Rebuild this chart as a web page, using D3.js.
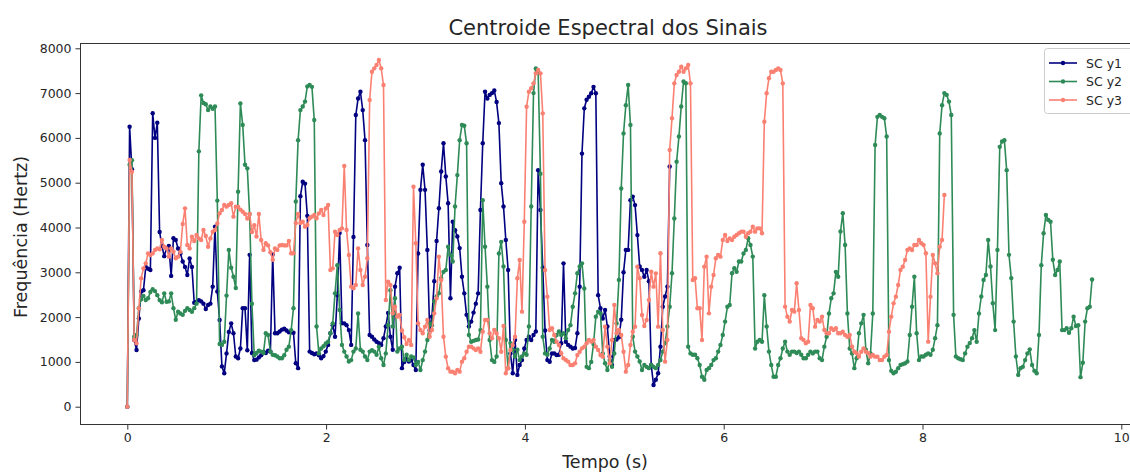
<!DOCTYPE html>
<html><head><meta charset="utf-8">
<script src="https://cdn.jsdelivr.net/npm/d3@7"></script>
<style>body{margin:0;background:#fff;} svg{display:block;font-family:"DejaVu Sans",sans-serif;}</style>
</head><body><svg id="c" width="1130" height="473"></svg>
<script>
// frame duration (hop 512 @ 22050 Hz)
const frameDur = 512 / 22050;
const seriesNames = ["SC y1", "SC y2", "SC y3"];
const seriesColors = ["#000080", "#2e8b57", "#fa8072"];
const xTicks = [0, 2, 4, 6, 8, 10];
const yTicks = [0, 1000, 2000, 3000, 4000, 5000, 6000, 7000, 8000];

const scY1 = [
0,6250,5300,1490,1265,1970,2570,2600,3120,3080,
3050,6550,6000,6340,3900,3590,3360,3530,3590,2920,
3760,3720,3530,3420,3240,3120,2940,3310,3120,2320,
2340,2380,2350,2300,2180,2270,2300,2680,4020,2570,
1935,900,745,1190,1670,1860,1640,1120,1080,1300,
2200,2200,1260,3390,1200,1040,1050,1100,1150,1220,
1200,1250,1230,3400,1640,1640,1680,1720,1740,1700,
1660,1660,1650,970,860,4700,5020,4980,4260,1230,
1200,1170,1190,1150,1080,1130,1230,1380,1640,1820,
1560,2490,3880,1860,1860,1820,1710,1380,3790,6510,
6880,7030,6620,5950,3610,1600,1560,1500,1450,1420,
1380,1530,1790,2090,1560,1270,2680,2980,3100,860,
1000,1060,1010,1040,930,820,3420,4840,5400,4840,
3500,1710,2010,2800,3700,4430,5250,5880,5140,4540,
2420,4130,3940,3800,3540,2900,2530,2050,1790,1900,
2100,2300,2530,4390,5880,7030,6880,6960,7000,7060,
6800,6330,4990,4470,3720,3050,1190,745,1490,710,
930,1040,1300,1490,1560,1490,1600,1680,5280,4390,
3100,1700,1040,1005,1190,1190,1155,1160,1415,3200,
1450,1380,1340,1300,1310,1640,2680,5650,6660,6850,
6920,6995,7140,6995,2490,2200,1970,2160,1790,1120,
930,1490,1500,1550,1940,3000,3500,3500,4610,4690,
4500,3830,3130,3050,2900,3050,2800,930,485,600,
745,1340,2230,2460,2680,5360
];

const scY2 = [
0,5400,5500,1560,1600,2200,2400,2470,2380,2420,
2560,2620,2580,2490,2380,2330,2530,2340,2350,2530,
2200,1940,2120,2080,2050,2140,2200,2160,2120,2200,
2300,5700,6950,6780,6750,6620,6700,6650,6700,4600,
1400,1380,1450,2480,3500,3100,2900,2650,4800,6770,
6290,5400,5320,4300,2300,1150,1200,1250,1230,1200,
1640,1600,1230,1160,1150,1120,1080,1080,1150,1270,
1340,1710,2200,4580,5950,6620,6700,6810,7150,7180,
7140,6400,1790,1190,1300,1350,1410,1450,1640,1860,
2530,3160,2160,1380,1230,1120,1010,1040,1230,1300,
2080,1270,1230,1120,1040,1230,1260,1230,1160,1340,
1080,930,1190,1820,2600,1790,2420,1230,1300,1340,
1040,1160,1040,1120,1100,930,1000,820,1040,1230,
1490,1860,1820,2350,2460,2530,2870,3010,3050,3570,
3390,3240,4470,5170,5950,6290,6270,5880,1600,1450,
1470,1490,1500,1710,4610,3570,2680,1490,1040,1000,
1120,3420,3680,3130,1490,860,1420,1270,1120,1270,
1040,1120,1190,1160,1790,4470,7000,7550,7480,5200,
1560,1190,1160,1300,1490,1450,1600,1680,1600,1640,
1530,1710,1820,2230,2530,2980,3130,3200,2640,890,
860,1000,1400,2010,2120,2080,1190,970,820,1040,
890,1190,1860,2830,4870,6100,6730,7180,6290,1560,
1230,1120,1010,820,930,890,860,930,890,860,
930,1040,1230,1420,1790,2230,2980,4200,5470,6030,
6700,7260,7220,1340,1190,1160,1160,1080,930,670,
600,820,860,930,1040,1080,1230,1380,1600,1900,
2230,2270,2980,3090,3010,3240,3240,3420,3500,3760,
3610,3350,1300,1450,1490,1450,2490,1790,1230,930,
670,670,930,1080,1300,1450,1230,1160,1230,1230,
1200,1230,1160,1080,1080,1160,1230,1190,1230,1230,
1080,1040,1340,1560,2080,2420,2530,3010,2900,3910,
4320,3610,2080,1300,1190,860,1080,1640,1860,2050,
1270,970,1190,2080,5840,6470,6510,6470,6440,6030,
1040,800,745,780,860,930,950,970,1010,1600,
2230,2900,1640,1040,1120,1120,1160,1190,1160,1270,
1530,1820,6100,6730,7000,6960,6810,6510,2050,1120,
1080,1060,1040,1190,1340,1420,1530,1710,1450,2080,
2460,2830,2940,3720,3130,2310,1710,3500,5800,5920,
5950,5280,3390,2870,1900,1120,710,860,890,1040,
1190,1280,930,800,745,1600,3160,3870,4280,4170,
4130,3280,2940,3050,3240,1710,1710,1750,1650,1750,
2010,1800,1820,660,980,1900,2200,2230,2840
];

const scY3 = [
0,5506,5245,1490,1414,2195,2865,3088,3200,3423,
3386,3423,3497,3534,3512,3720,3571,3534,3349,3534,
3460,3311,3349,3460,4077,4427,3609,3534,3795,3700,
3832,3757,3720,3943,3809,3571,3757,3906,3943,4092,
4316,4391,4502,4465,4502,4540,4242,4465,4460,4400,
4350,4300,4200,4300,3900,4050,3800,4300,3720,3500,
3650,3600,3450,3280,3530,3500,3600,3610,3600,3600,
3700,3424,3424,4100,4300,4100,4130,4019,4056,4205,
4242,4279,4205,4316,4391,4279,4428,4502,3051,3088,
3907,3833,3944,3981,5373,3944,3386,2680,2642,2717,
3535,3051,2717,2903,3312,6846,7478,7553,7627,7739,
7553,7181,2382,2791,2717,2084,2233,2010,2050,1700,
1550,1400,1489,1378,4911,3647,1861,1713,1638,1787,
1936,1560,1713,2084,2419,3349,2829,1563,1117,857,
782,782,745,819,782,1006,1080,1228,1340,1340,
1303,1266,1303,1228,1675,1936,1936,1638,1527,1713,
1638,1527,1228,1800,745,857,1266,1378,1563,2866,
3275,2122,4130,6697,7032,7107,7218,7441,7515,7441,
6548,3051,2456,1713,1750,1600,1452,1378,1192,1080,
1043,1006,931,931,968,1155,1228,1303,1340,1415,
1489,1452,1489,1340,1266,1155,1117,1787,1340,968,
1489,2270,1638,1713,1600,1228,782,931,1378,1675,
1787,3126,2866,2047,1800,1936,2382,3014,2680,2977,
1787,3424,1713,1006,1489,5730,6437,7218,7404,7478,
7590,7478,7553,7627,7218,2829,2866,2196,2196,1489,
3126,3349,2084,2680,2940,3312,3386,3349,3721,3833,
3700,3758,3721,3795,3833,3870,3907,3907,3795,3870,
3907,4019,3907,3981,3981,3870,6362,6995,7330,7478,
7478,7515,7553,7515,7218,2233,2010,1899,2159,2122,
2754,2159,1527,1489,1415,1452,2270,2196,1787,1936,
1899,2010,1713,1638,1638,1750,1713,1750,1638,1638,
1675,1600,1563,1600,1340,1228,1192,1117,1228,1303,
1228,1192,1117,1155,1117,1117,1043,1043,1117,1155,
1675,2010,2307,2456,2717,3051,3126,3275,3498,3535,
3498,3610,3610,3721,3647,3610,3424,1452,2456,3386,
3200,2977,3572,3721,4725
];

const W = 1130, H = 473;
const plot = { left: 80, right: 1130, top: 43, bottom: 424 };
const svg = d3.select("#c");

const x = d3.scaleLinear().domain([0, 10]).range([127.3, 1121.3]);
const y = d3.scaleLinear().domain([0, 8000]).range([406.7, 48.3]);

svg.append("rect").attr("width", W).attr("height", H).attr("fill", "#fff");

svg.append("clipPath").attr("id", "clip").append("rect")
  .attr("x", plot.left).attr("y", plot.top)
  .attr("width", plot.right - plot.left).attr("height", plot.bottom - plot.top);

const allSeries = [scY1, scY2, scY3];
allSeries.forEach((vals, k) => {
  const pts = vals.map((v, i) => [i * frameDur, v]);
  const g = svg.append("g").attr("clip-path", "url(#clip)");
  g.append("path").datum(pts)
    .attr("d", d3.line().x(d => x(d[0])).y(d => y(d[1])))
    .attr("fill", "none").attr("stroke", seriesColors[k])
    .attr("stroke-width", 1.6).attr("stroke-linejoin", "round");
  g.selectAll("circle").data(pts).join("circle")
    .attr("cx", d => x(d[0])).attr("cy", d => y(d[1]))
    .attr("r", 2.2).attr("fill", seriesColors[k]);
});

// frame
svg.append("rect")
  .attr("x", plot.left + 0.5).attr("y", plot.top + 0.5)
  .attr("width", plot.right - plot.left).attr("height", plot.bottom - plot.top)
  .attr("fill", "none").attr("stroke", "#333").attr("stroke-width", 1);

const tickFont = 12.5;
const yAxis = d3.axisLeft(y).tickValues(yTicks).tickSize(5).tickPadding(4).tickFormat(d3.format("d"));
const gy = svg.append("g").attr("transform", `translate(${plot.left + 0.5},0)`).call(yAxis);
gy.select(".domain").remove();
gy.selectAll("line").attr("stroke", "#333");
gy.selectAll("text").attr("font-size", tickFont).attr("font-family", "DejaVu Sans").attr("fill", "#262626");

const xAxis = d3.axisBottom(x).tickValues(xTicks).tickSize(5).tickPadding(4).tickFormat(d3.format("d"));
const gx = svg.append("g").attr("transform", `translate(0,${plot.bottom + 0.5})`).call(xAxis);
gx.select(".domain").remove();
gx.selectAll("line").attr("stroke", "#333");
gx.selectAll("text").attr("font-size", tickFont).attr("font-family", "DejaVu Sans").attr("fill", "#262626");

// title and labels
svg.append("text").attr("x", 608).attr("y", 35).attr("text-anchor", "middle")
  .attr("font-size", 21).attr("fill", "#262626").text("Centroide Espectral dos Sinais");
svg.append("text").attr("x", 605).attr("y", 468).attr("text-anchor", "middle")
  .attr("font-size", 17.5).attr("fill", "#262626").text("Tempo (s)");
svg.append("text").attr("transform", "translate(27,237) rotate(-90)").attr("text-anchor", "middle")
  .attr("font-size", 17.5).attr("fill", "#262626").text("Frequência (Hertz)");

// legend
const lg = svg.append("g");
lg.append("rect").attr("x", 1044.5).attr("y", 48.5).attr("width", 90).attr("height", 65).attr("rx", 3)
  .attr("fill", "#fff").attr("fill-opacity", 0.8).attr("stroke", "#ccc");
seriesNames.forEach((name, k) => {
  const yy = 63 + k * 18.5;
  lg.append("line").attr("x1", 1049).attr("x2", 1077).attr("y1", yy).attr("y2", yy)
    .attr("stroke", seriesColors[k]).attr("stroke-width", 1.6);
  lg.append("circle").attr("cx", 1063).attr("cy", yy).attr("r", 2.2).attr("fill", seriesColors[k]);
  lg.append("text").attr("x", 1086).attr("y", yy + 4.5).attr("font-size", 12.5).attr("fill", "#262626").text(name);
});
</script></body></html>
